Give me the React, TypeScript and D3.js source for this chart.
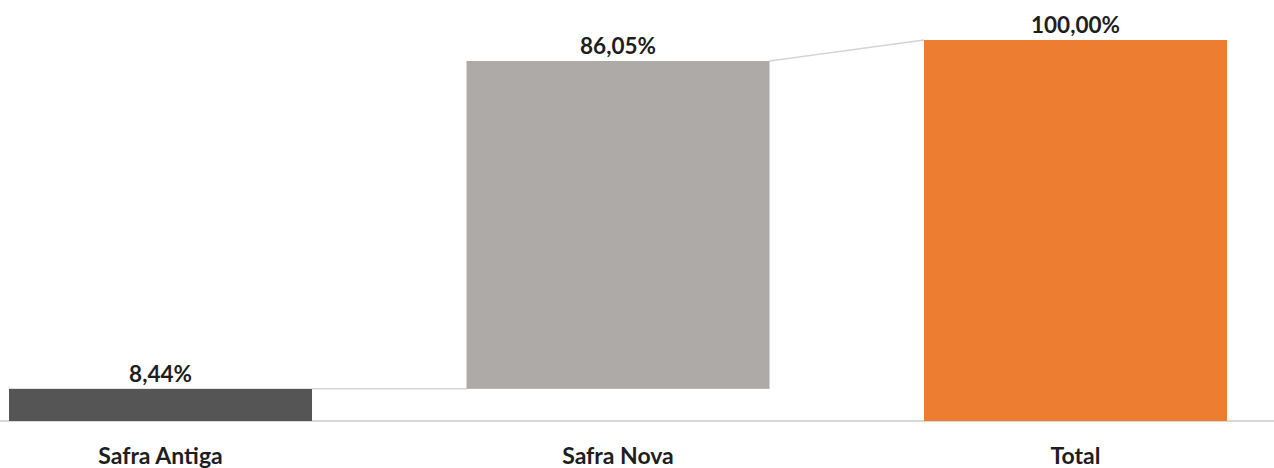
import React from "react";
import * as d3 from "d3";

const categories = ["Safra Antiga", "Safra Nova", "Total"];
const values = [8.44, 86.05, 100];
const valueLabels = ["8,44%", "86,05%", "100,00%"];
const isTotal = [false, false, true];
const colors = ["#555555", "#aeaaa7", "#ed7d31"];

const W = 1274;
const H = 468;

export default function App() {
  const x = d3.scaleBand<string>().domain(categories).range([0, 1236]).paddingInner(0.3377).paddingOuter(0.0197);
  const y = d3.scaleLinear().domain([0, 100]).range([421, 40]);

  let cum = 0;
  const bars = categories.map((c, i) => {
    let start: number, end: number;
    if (isTotal[i]) {
      start = 0;
      end = values[i];
    } else {
      start = cum;
      end = cum + values[i];
      cum = end;
    }
    return { c, i, start, end };
  });

  const font = "Lato, 'Open Sans', sans-serif";

  return (
    <svg width={W} height={H} style={{ position: "absolute", left: 0, top: 0, background: "#fff" }}>
      <line x1={0} x2={W} y1={y(0)} y2={y(0)} stroke="#d9d9d9" strokeWidth={2} />
      {bars.slice(0, -1).map((b, k) => {
        const nb = bars[k + 1];
        const yFrom = y(b.end);
        const yTo = isTotal[nb.i] ? y(nb.end) : y(nb.start);
        return (
          <line
            key={"c" + k}
            x1={(x(b.c) as number) + x.bandwidth()}
            x2={x(nb.c) as number}
            y1={yFrom}
            y2={yTo}
            stroke="#d4d4d4"
            strokeWidth={1.5}
          />
        );
      })}
      {bars.map((b) => (
        <g key={b.c}>
          <rect
            x={x(b.c) as number}
            y={y(b.end)}
            width={x.bandwidth()}
            height={y(b.start) - y(b.end)}
            fill={colors[b.i]}
          />
          <text
            x={(x(b.c) as number) + x.bandwidth() / 2}
            y={y(b.end) - 7}
            textAnchor="middle"
            fontFamily={font}
            fontWeight="bold"
            fontSize={22.5}
            fill="#1e1e1e"
          >
            {valueLabels[b.i]}
          </text>
          <text
            x={(x(b.c) as number) + x.bandwidth() / 2}
            y={464}
            textAnchor="middle"
            fontFamily={font}
            fontWeight="bold"
            fontSize={23}
            fill="#1e1e1e"
          >
            {b.c}
          </text>
        </g>
      ))}
    </svg>
  );
}
